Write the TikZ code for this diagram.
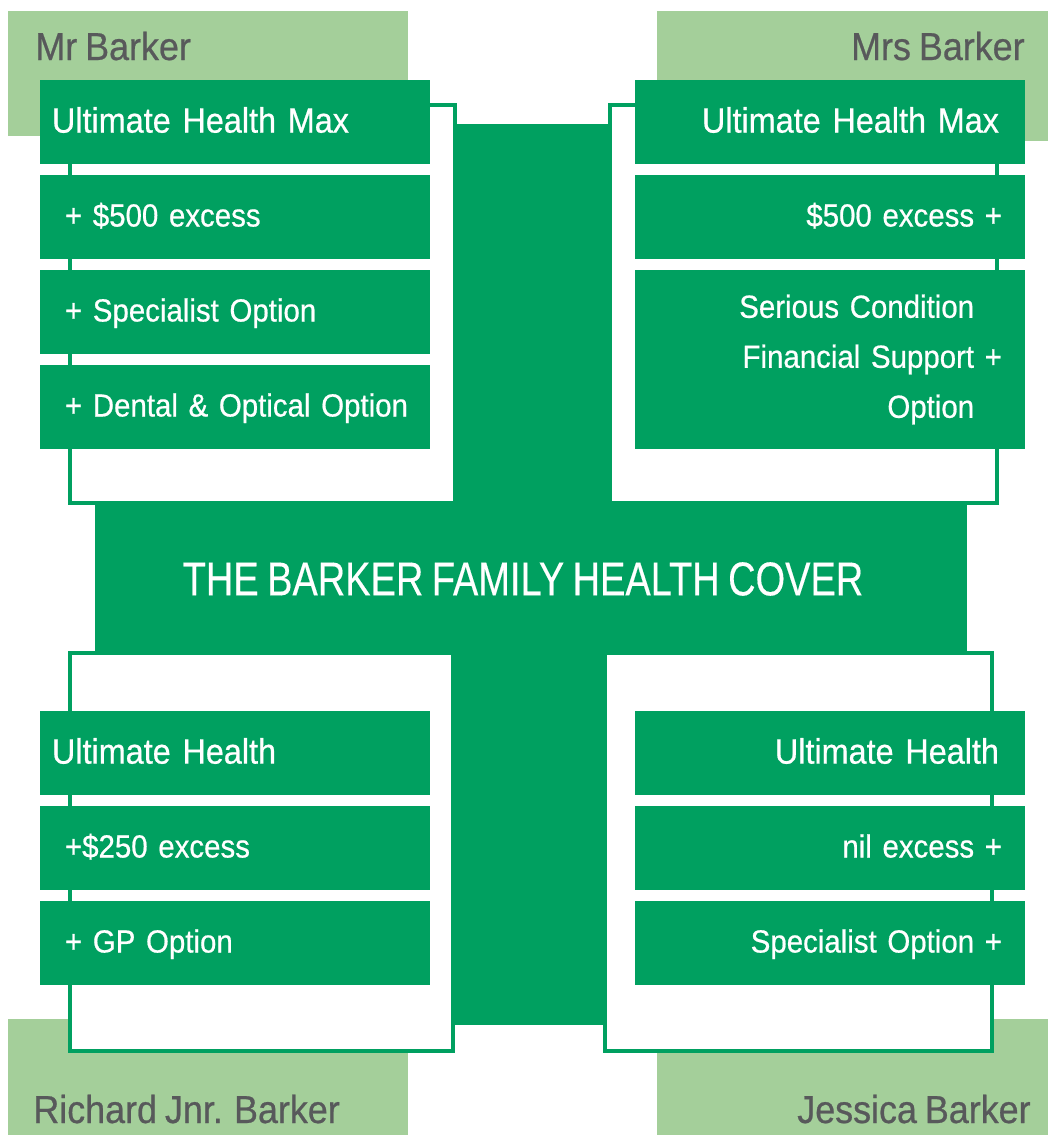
\documentclass[tikz,border=0pt]{standalone}
\usepackage{fontspec}
\setmainfont{Liberation Sans}
\newfontfamily\boxfont{Liberation Sans}[FakeStretch=0.92, FakeBold=0.6, WordSpace=0.8]
\newfontfamily\titlefont{Liberation Sans}[FakeStretch=0.8, FakeBold=0.3, WordSpace=0.8]
\usetikzlibrary{positioning}
\usepackage{xcolor}
\definecolor{barkergreen}{RGB}{0,160,96}
\definecolor{barkerlight}{RGB}{164,207,154}
\definecolor{barkergrey}{RGB}{88,89,91}

\begin{document}
\begin{tikzpicture}[
        x=0.5pt, y=-0.5pt,
        node distance=5.5pt,
        box/.style={rectangle, fill=barkergreen, text=white, minimum height=42pt, inner ysep=0pt, outer sep=0pt},
        oneline/.style={text depth=2pt, execute at begin node={\leavevmode\hbox\bgroup}, execute at end node={\egroup}},
        planfont/.style={font=\boxfont\fontsize{17.6}{22}\selectfont, text height=12.6pt},
        optfont/.style={font=\boxfont\fontsize{16}{25}\selectfont, text height=11.5pt},
        lplan/.style={box, oneline, planfont, text width=183pt, inner xsep=6pt, align=left},
        lopt/.style={box, oneline, optfont, text width=170pt, inner xsep=12.5pt, align=left},
        rplan/.style={box, oneline, planfont, text width=169pt, inner xsep=13pt, align=right},
        ropt/.style={box, oneline, optfont, text width=172pt, inner xsep=11.5pt, align=right},
        longopt/.style={box, font=\boxfont\fontsize{16}{25}\selectfont, text width=172pt, inner xsep=11.5pt, align=right, minimum height=89.5pt},
        panel/.style={draw=barkergreen, line width=2pt, fill=white},
        member/.style={text=barkergrey, inner sep=0pt, font=\boxfont\fontsize{19.5}{23}\selectfont},
        cover/.style={text=white, inner sep=0pt, font=\titlefont\fontsize{23.75}{28}\selectfont}
    ]
    \useasboundingbox (0,0) rectangle (1048,1135);

    % name tabs
    \fill[barkerlight] (8,11) rectangle (408,136);
    \fill[barkerlight] (657,11) rectangle (1048,141);
    \fill[barkerlight] (8,1019) rectangle (408,1135);
    \fill[barkerlight] (657,1019) rectangle (1048,1135);
    \node[member, anchor=base west] (mrname) at (35,60) {Mr Barker};
    \node[member, anchor=base east] (mrsname) at (1025,60) {Mrs Barker};
    \node[member, anchor=base west] (richardname) at (33,1123) {Richard Jnr. Barker};
    \node[member, anchor=base east] (jessicaname) at (1031,1123) {Jessica Barker};

    % family cross
    \fill[barkergreen] (453,124) rectangle (609,1025);
    \fill[barkergreen] (95,505) rectangle (967,653);
    \node[cover] (family) at (523,579) {THE BARKER FAMILY HEALTH COVER};

    % panels
    \draw[panel] (70,105) rectangle (455,503);
    \draw[panel] (610,105) rectangle (997,503);
    \draw[panel] (70,653) rectangle (453,1051);
    \draw[panel] (605,653) rectangle (992,1051);

    % Mr Barker
    \node[lplan, anchor=north west] (mrplan) at (40,80) {Ultimate Health Max};
    \node[lopt, below=of mrplan] (mrexcess) {+ \$500 excess};
    \node[lopt, below=of mrexcess] (mrspecialist) {+ Specialist Option};
    \node[lopt, below=of mrspecialist] (mrdental) {+ Dental \& Optical Option};

    % Mrs Barker
    \node[rplan, anchor=north east] (mrsplan) at (1025,80) {Ultimate Health Max};
    \node[ropt, below=of mrsplan] (mrsexcess) {\$500 excess +};
    \node[longopt, below=of mrsexcess] (mrsserious) {Serious Condition\hphantom{~+}\\Financial Support +\\Option\hphantom{~+}};

    % Richard Jnr. Barker
    \node[lplan, anchor=north west] (richardplan) at (40,711) {Ultimate Health};
    \node[lopt, below=of richardplan] (richardexcess) {+\$250 excess};
    \node[lopt, below=of richardexcess] (richardgp) {+ GP Option};

    % Jessica Barker
    \node[rplan, anchor=north east] (jessicaplan) at (1025,711) {Ultimate Health};
    \node[ropt, below=of jessicaplan] (jessicaexcess) {nil excess +};
    \node[ropt, below=of jessicaexcess] (jessicaspecialist) {Specialist Option +};
\end{tikzpicture}
\end{document}
